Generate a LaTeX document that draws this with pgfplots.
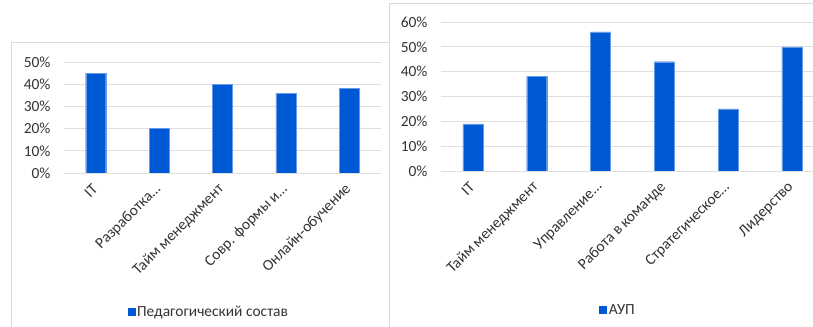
\documentclass[border=0pt]{standalone}
\usepackage{pgfplots}
\pgfplotsset{compat=1.18}
\usepackage{fontspec}
\setmainfont{Carlito}
\definecolor{barblue}{HTML}{0059D4}
\definecolor{gridgray}{HTML}{E0E0E0}
\definecolor{framegray}{HTML}{D9D9D9}
\definecolor{txt}{HTML}{333333}
\pgfplotsset{
  mybar/.style={
    scale only axis,
    ybar,
    bar width=20bp,
    axis x line*=bottom,
    axis y line*=left,
    y axis line style={draw=none},
    ymin=0,
    xtick=data,
    ymajorgrids,
    grid style={gridgray, line width=0.8pt},
    x axis line style={gridgray, line width=0.8pt},
    major tick length=0pt,
    tick style={draw=none},
    font=\fontsize{15.5}{18}\selectfont,
    every tick label/.append style={text=txt, font=\fontsize{15.5}{18}\selectfont},
    /pgf/number format/assume math mode=true,
    yticklabel={\pgfmathprintnumber{\tick}\%},
    yticklabel style={xshift=-10bp},
    xticklabel style={yshift=-13bp, rotate=45, anchor=east, inner sep=1pt},
    legend style={draw=none, fill=none, text=txt, font=\fontsize{15.5}{18}\selectfont, inner sep=0pt},
    legend image code/.code={\fill[barblue] (0bp,-3.5bp) rectangle (7bp,3.5bp);},
  }
}
\begin{document}
\begin{tikzpicture}
\path[use as bounding box] (0,0) rectangle (813bp,327bp);
% frames
\draw[framegray, line width=0.8pt] (11bp,0bp) -- (11bp,285bp) -- (389bp,285bp);
\draw[framegray, line width=0.8pt] (389bp,0bp) -- (389bp,324bp) -- (813bp,324bp);
\begin{axis}[mybar,
  at={(64bp,154bp)}, anchor=south west,
  width=317bp, height=111bp,
  xmin=-0.5, xmax=4.5, ymax=50,
  ytick={0,10,...,50},
  xticklabels={IT, Разработка…, Тайм менеджмент, Совр. формы и…, Онлайн-обучение},
  legend style={at={(0.457,-1.25)}, anchor=center},
]
\addplot[fill=barblue, draw=barblue!60!white, line width=0.4pt] coordinates {(0,45) (1,20) (2,40) (3,36) (4,38)};
\addlegendentry{Педагогический состав}
\end{axis}
\begin{axis}[mybar,
  at={(441bp,156bp)}, anchor=south west,
  width=372bp, height=149bp,
  xmin=-0.5, xmax=5.33, ymax=60,
  ytick={0,10,...,60},
  xticklabels={IT, Тайм менеджмент, Управление…, Работа в команде, Стратегическое…, Лидерство},
  legend style={at={(0.476,-0.933)}, anchor=center},
]
\addplot[fill=barblue, draw=barblue!60!white, line width=0.4pt] coordinates {(0,19) (1,38) (2,56) (3,44) (4,25) (5,50)};
\addlegendentry{АУП}
\end{axis}
\end{tikzpicture}
\end{document}
